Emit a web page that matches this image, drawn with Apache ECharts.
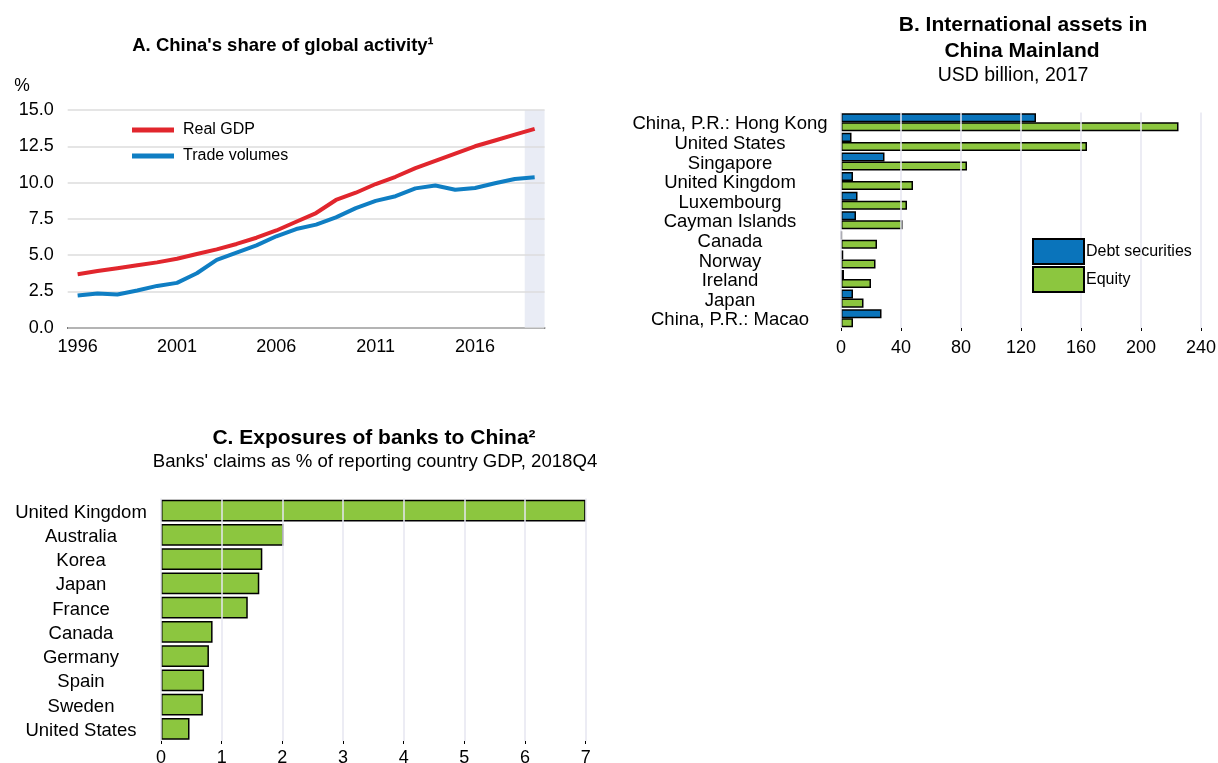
<!DOCTYPE html>
<html>
<head>
<meta charset="utf-8">
<script src="https://cdn.jsdelivr.net/npm/echarts@6/dist/echarts.min.js"></script>
<style>
  html, body { margin: 0; padding: 0; background: #fff; }
  #chart { width: 1218px; height: 763px; }
</style>
</head>
<body>
<div id="chart"></div>
<script>
// Panel A: China's share of global activity, %
const years = ['1996','1997','1998','1999','2000','2001','2002','2003','2004','2005','2006','2007',
               '2008','2009','2010','2011','2012','2013','2014','2015','2016','2017','2018','2019'];
const realGdp = [3.68, 3.9, 4.1, 4.3, 4.5, 4.75, 5.08, 5.4, 5.77, 6.2, 6.7, 7.3,
                 7.9, 8.8, 9.3, 9.9, 10.4, 11.0, 11.5, 12.0, 12.5, 12.9, 13.3, 13.7];
const tradeVolumes = [2.22, 2.36, 2.29, 2.56, 2.88, 3.09, 3.75, 4.67, 5.17, 5.67, 6.3, 6.8,
                      7.1, 7.6, 8.24, 8.74, 9.06, 9.6, 9.8, 9.5, 9.63, 9.95, 10.25, 10.37];
const projectionYear = '2019';
const shareAxisMax = 15;

// Panel B: international assets in China Mainland, USD billion, 2017
const assetCountries = ['China, P.R.: Hong Kong', 'United States', 'Singapore', 'United Kingdom',
                        'Luxembourg', 'Cayman Islands', 'Canada', 'Norway', 'Ireland', 'Japan',
                        'China, P.R.: Macao'];
const debtSecurities = [130, 7, 29, 8, 11, 10, 0.5, 1.5, 2, 8, 27];
const equity = [225, 164, 84, 48, 44, 41, 24, 23, 20, 15, 8];

// Panel C: banks' claims on China as % of reporting country GDP, 2018Q4
const bankCountries = ['United Kingdom', 'Australia', 'Korea', 'Japan', 'France', 'Canada',
                       'Germany', 'Spain', 'Sweden', 'United States'];
const bankClaims = [7.0, 2.02, 1.67, 1.62, 1.43, 0.85, 0.79, 0.71, 0.69, 0.47];

const FONT = "'Liberation Sans', Arial, sans-serif";
const RED = '#e1262d';
const BLUE_LINE = '#0f7ec3';
const BLUE_BAR = '#0a74bb';
const GREEN = '#8cc63f';
const SHADE = '#e9ecf5';

function text(x, y, str, size, weight) {
  return {
    type: 'text', x: x, y: y, silent: true,
    style: {
      text: str, fontSize: size, fontWeight: weight || 'normal', fontFamily: FONT,
      fill: '#000', align: 'center', verticalAlign: 'middle'
    }
  };
}

const tickLabel = { color: '#000', fontSize: 18, fontFamily: FONT };
// country names sit a touch below the band centre
const categoryLabel = {
  color: '#000', fontSize: 18.5, fontFamily: FONT, align: 'center', interval: 0,
  verticalAlign: 'top', lineHeight: 4
};

const chart = echarts.init(document.getElementById('chart'), null, { renderer: 'canvas' });

chart.setOption({
  animation: false,
  backgroundColor: '#fff',
  textStyle: { fontFamily: FONT, color: '#000' },
  graphic: [
    text(283, 46, 'A. China\'s share of global activity\u00b9', 18.5, 'bold'),
    text(22, 86, '%', 17.5),
    text(1023, 25, 'B. International assets in', 21, 'bold'),
    text(1022, 51, 'China Mainland', 21, 'bold'),
    text(1013, 76, 'USD billion, 2017', 19.5),
    text(374, 438, 'C. Exposures of banks to China\u00b2', 21, 'bold'),
    text(375, 462, 'Banks\' claims as % of reporting country GDP, 2018Q4', 18.6)
  ],
  grid: [
    { left: 67.7, top: 110, width: 476.9, height: 217.7, outerBoundsMode: 'none' },
    { left: 841, top: 112.5, width: 360, height: 215.5, outerBoundsMode: 'none' },
    { left: 161, top: 498.5, width: 424.7, height: 242.5, outerBoundsMode: 'none' }
  ],
  xAxis: [
    {
      gridIndex: 0, type: 'category', data: years, boundaryGap: true,
      axisLine: { lineStyle: { color: '#000', width: 1.5 } },
      axisTick: { inside: true, length: 4, interval: 0, lineStyle: { color: '#000', width: 1.2 } },
      axisLabel: Object.assign({ interval: 4, margin: 10 }, tickLabel),
      splitLine: { show: false }
    },
    {
      gridIndex: 1, type: 'value', min: 0, max: 240, interval: 40, z: 3,
      axisLine: { show: false },
      axisTick: { show: true, length: 3, lineStyle: { color: '#000', width: 1 } },
      axisLabel: Object.assign({ margin: 11 }, tickLabel),
      splitLine: { show: true, lineStyle: { color: '#e6e6f0', width: 1.5 } }
    },
    {
      gridIndex: 2, type: 'value', min: 0, max: 7, interval: 1, z: 3,
      axisLine: { show: false },
      axisTick: { show: true, length: 3, lineStyle: { color: '#000', width: 1 } },
      axisLabel: Object.assign({ margin: 8 }, tickLabel),
      splitLine: { show: true, lineStyle: { color: '#e6e6f0', width: 1.5 } }
    }
  ],
  yAxis: [
    {
      gridIndex: 0, type: 'value', min: 0, max: shareAxisMax, interval: 2.5, z: 2,
      axisLine: { show: false }, axisTick: { show: false },
      axisLabel: Object.assign({ margin: 14, formatter: v => v.toFixed(1) }, tickLabel),
      splitLine: { lineStyle: { color: '#dcdcdc', width: 1.5 } }
    },
    {
      gridIndex: 1, type: 'category', data: assetCountries, inverse: true,
      axisLine: { show: false }, axisTick: { show: false },
      axisLabel: Object.assign({ margin: 111 }, categoryLabel)
    },
    {
      gridIndex: 2, type: 'category', data: bankCountries, inverse: true,
      axisLine: { show: false }, axisTick: { show: false },
      axisLabel: Object.assign({ margin: 80 }, categoryLabel)
    }
  ],
  legend: [
    {
      data: ['Real GDP', 'Trade volumes'], orient: 'vertical', left: 132, top: 120,
      padding: 0, itemWidth: 42, itemHeight: 5, itemGap: 6, icon: 'rect', selectedMode: false,
      textStyle: { fontSize: 16, lineHeight: 20, color: '#000', fontFamily: FONT, padding: [0, 0, 0, 4] }
    },
    {
      data: ['Debt securities', 'Equity'], orient: 'vertical', left: 1032, top: 238,
      padding: 0, itemWidth: 51, itemHeight: 25, itemGap: 1, icon: 'rect', selectedMode: false,
      textStyle: { fontSize: 16, color: '#000', fontFamily: FONT, padding: [0, 0, 0, -3] }
    }
  ],
  series: [
    {
      name: 'Projection', type: 'bar', xAxisIndex: 0, yAxisIndex: 0, silent: true, z: 1,
      barWidth: '100%',
      data: years.map(y => (y === projectionYear ? shareAxisMax : null)),
      itemStyle: { color: SHADE }
    },
    {
      name: 'Real GDP', type: 'line', xAxisIndex: 0, yAxisIndex: 0, z: 4,
      data: realGdp, symbol: 'none', color: RED,
      lineStyle: { width: 4, color: RED }, itemStyle: { color: RED }
    },
    {
      name: 'Trade volumes', type: 'line', xAxisIndex: 0, yAxisIndex: 0, z: 4,
      data: tradeVolumes, symbol: 'none', color: BLUE_LINE,
      lineStyle: { width: 4, color: BLUE_LINE }, itemStyle: { color: BLUE_LINE }
    },
    {
      name: 'Debt securities', type: 'bar', xAxisIndex: 1, yAxisIndex: 1, z: 2,
      data: debtSecurities, barGap: '0%', barCategoryGap: '8%',
      itemStyle: { color: BLUE_BAR, borderColor: '#000', borderWidth: 1.5 }
    },
    {
      name: 'Equity', type: 'bar', xAxisIndex: 1, yAxisIndex: 1, z: 2,
      data: equity, barGap: '0%', barCategoryGap: '8%',
      itemStyle: { color: GREEN, borderColor: '#000', borderWidth: 1.5 }
    },
    {
      name: 'Banks\u2019 claims on China', type: 'bar', xAxisIndex: 2, yAxisIndex: 2, z: 2,
      data: bankClaims, barCategoryGap: '10%',
      itemStyle: { color: GREEN, borderColor: '#000', borderWidth: 1.5 }
    }
  ]
});
</script>
</body>
</html>
